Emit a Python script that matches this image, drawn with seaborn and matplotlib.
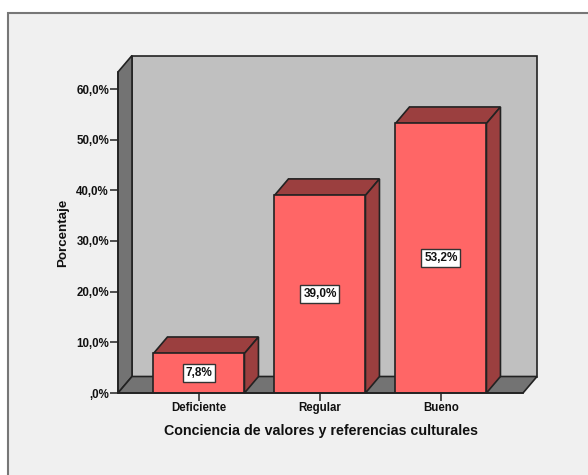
import matplotlib
matplotlib.use("Agg")
import matplotlib.pyplot as plt
from matplotlib.patches import Polygon, Rectangle
import pandas as pd
import seaborn as sns

categories = ["Deficiente", "Regular", "Bueno"]
percentages = [7.8, 39.0, 53.2]
y_ticks = [0, 10, 20, 30, 40, 50, 60]
x_label = "Conciencia de valores y referencias culturales"
y_label = "Porcentaje"

W, H = 588, 475
sns.set_theme(style="white")
plt.rcParams["font.family"] = ["Liberation Sans", "DejaVu Sans"]
plt.rcParams["font.weight"] = "bold"

fig = plt.figure(figsize=(W / 100, H / 100), dpi=100, facecolor="white")
fig.add_artist(Rectangle((8 / W, -0.01), 1, 1 - 13 / H + 0.01, transform=fig.transFigure,
                         facecolor="#f0f0f0", edgecolor="#777777", linewidth=1.5, zorder=-1))
left, right, bottom, top = 118, 523, 393, 72
ax = fig.add_axes([left / W, 1 - bottom / H, (right - left) / W, (bottom - top) / H])
ax.patch.set_visible(False)

df = pd.DataFrame({"cat": categories, "pct": percentages})
sns.barplot(data=df, x="cat", y="pct", ax=ax, color="#ff6666", saturation=1,
            width=0.752, edgecolor="#222222", linewidth=1.2, zorder=5)

x0, x1 = -0.669, 2.678
y0, y1 = 0, (bottom - top) / (304 / 60)
ax.set_xlim(x0, x1)
ax.set_ylim(y0, y1)
px_x = (x1 - x0) / (right - left)
px_y = (y1 - y0) / (bottom - top)
dx, dy = 14 * px_x, 16.5 * px_y

edge = "#222222"
def face(pts, color, z):
    ax.add_patch(Polygon(pts, closed=True, facecolor=color, edgecolor=edge,
                         linewidth=1.2, clip_on=False, zorder=z))

face([(x0 + dx, dy), (x1 + dx, dy), (x1 + dx, y1 + dy), (x0 + dx, y1 + dy)], "#c0c0c0", 1)
face([(x0, 0), (x0 + dx, dy), (x0 + dx, y1 + dy), (x0, y1)], "#737373", 2)
face([(x0, 0), (x1, 0), (x1 + dx, dy), (x0 + dx, dy)], "#737373", 2)

for bar in ax.containers[0]:
    a, b = bar.get_x(), bar.get_x() + bar.get_width()
    h = bar.get_height()
    face([(a, h), (b, h), (b + dx, h + dy), (a + dx, h + dy)], "#9b3f3f", 4)
    face([(b, 0), (b + dx, dy), (b + dx, h + dy), (b, h)], "#9b3f3f", 4)

ax.bar_label(ax.containers[0], labels=[f"{v:.1f}%".replace(".", ",") for v in percentages],
             label_type="center", fontsize=8.5, fontweight="bold", color="#111111", zorder=7,
             bbox=dict(boxstyle="square,pad=0.24", facecolor="white", edgecolor="#333333", linewidth=1.0))

ax.set_yticks(y_ticks)
ax.set_yticklabels(["," + "0%" if v == 0 else f"{v},0%" for v in y_ticks])
ax.set_xticks(range(len(categories)))
ax.set_xticklabels(categories)
ax.tick_params(axis="both", which="major", length=5.5, width=1.2, color="#333333",
               labelsize=8.3, labelcolor="#111111", pad=1, left=True, bottom=True)
ax.set_xlabel(x_label, fontsize=10.3, fontweight="bold", color="#111111", labelpad=7)
ax.set_ylabel(y_label, fontsize=9.6, fontweight="bold", color="#111111", labelpad=5)
sns.despine(ax=ax)
for s in ("left", "bottom"):
    ax.spines[s].set_color(edge)
    ax.spines[s].set_linewidth(1.2)
    ax.spines[s].set_zorder(6)
fig.savefig("out.png", dpi=100, facecolor=fig.get_facecolor())
